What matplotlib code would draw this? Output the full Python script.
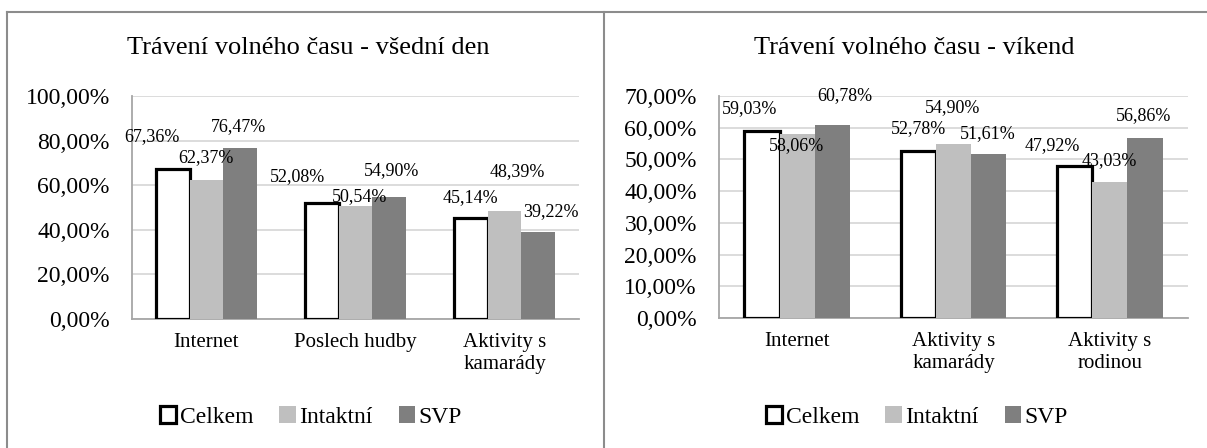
import matplotlib
matplotlib.use("Agg")
import matplotlib.pyplot as plt
from matplotlib.patches import Patch
from matplotlib.lines import Line2D
from matplotlib.ticker import FuncFormatter

plt.rcParams['font.family'] = ['Liberation Serif', 'DejaVu Serif']

series = ["Celkem", "Intaktní", "SVP"]

# vsedni den
weekday_title = "Trávení volného času - všední den"
weekday_cats = ["Internet", "Poslech hudby", "Aktivity s\nkamarády"]
weekday_celkem = [67.36, 52.08, 45.14]
weekday_intaktni = [62.37, 50.54, 48.39]
weekday_svp = [76.47, 54.90, 39.22]

# vikend
weekend_title = "Trávení volného času - víkend"
weekend_cats = ["Internet", "Aktivity s\nkamarády", "Aktivity s\nrodinou"]
weekend_celkem = [59.03, 52.78, 47.92]
weekend_intaktni = [58.06, 54.90, 43.03]
weekend_svp = [60.78, 51.61, 56.86]

# label nudges in pixels (dx, dy) from bar top, like excel put them
weekday_nudge = [
    [(-21, 32), (-24, 26), (-1, 21)],
    [(-1, 22), (4, 10), (13, 39)],
    [(-2, 22), (3, 26), (13, 20)],
]
weekend_nudge = [
    [(-12, 22), (0, 22), (-22, 20)],
    [(-1, -12), (-1, 36), (-1, 21)],
    [(12, 30), (-1, 21), (-1, 22)],
]

W, H = 1207, 448
fig = plt.figure(figsize=(W / 100, H / 100), dpi=100)

styles = [
    dict(facecolor="white", edgecolor="black", linewidth=2.3),
    dict(facecolor="#bfbfbf", edgecolor="none"),
    dict(facecolor="#7f7f7f", edgecolor="none"),
]


def pct(v, pos):
    return ("%.2f%%" % v).replace(".", ",")


def panel(rect, title, title_x, cats, data, ymax, step, nudges, legend_x):
    ax = fig.add_axes(rect)
    bw = 0.225
    xs = range(len(cats))
    for k, vals in enumerate(data):
        off = (k - 1) * bw
        bars = ax.bar([x + off for x in xs], vals, bw, zorder=3, **styles[k])
        for b, v, (dx, dy) in zip(bars, vals, nudges[k]):
            ax.annotate(pct(v, None), (b.get_x() + b.get_width() / 2, v),
                        xytext=(dx, dy), textcoords="offset pixels",
                        ha="center", va="center", fontsize=13, zorder=5)
    ax.set_xlim(-0.5, len(cats) - 0.5)
    ax.set_ylim(0, ymax)
    ax.set_yticks([i * step for i in range(int(round(ymax / step)) + 1)])
    ax.yaxis.set_major_formatter(FuncFormatter(pct))
    ax.set_xticks(list(xs))
    ax.set_xticklabels(cats)
    ax.tick_params(axis="x", length=0, pad=10, labelsize=15)
    ax.tick_params(axis="y", length=0, pad=16, labelsize=17)
    ax.grid(axis="y", color="#d9d9d9", linewidth=1.3, zorder=0)
    for s in ["top", "right"]:
        ax.spines[s].set_visible(False)
    for s in ["left", "bottom"]:
        ax.spines[s].set_color("#a6a6a6")
        ax.spines[s].set_linewidth(1.3)
    fig.text(title_x / W, 1 - 48 / H, title, ha="center", va="center",
             fontsize=19)
    handles = [Patch(**styles[0]), Patch(**styles[1]), Patch(**styles[2])]
    fig.legend(handles, series, loc="center", ncol=3,
               bbox_to_anchor=(legend_x / W, 1 - 417 / H), frameon=False,
               fontsize=17, handlelength=0.7, handleheight=0.7,
               handletextpad=0.15, columnspacing=1.1)
    return ax


panel([132 / W, 1 - 319 / H, 447 / W, 223 / H], weekday_title, 308,
      weekday_cats, [weekday_celkem, weekday_intaktni, weekday_svp],
      100, 20, weekday_nudge, 311)
panel([719 / W, 1 - 318 / H, 469 / W, 222 / H], weekend_title, 914,
      weekend_cats, [weekend_celkem, weekend_intaktni, weekend_svp],
      70, 10, weekend_nudge, 917)

# outer frame lines of the two chart boxes
frame = dict(color="#8c8c8c", linewidth=1.5, transform=fig.transFigure)
fig.add_artist(Line2D([7 / W, 1], [1 - 12 / H, 1 - 12 / H], **frame))
fig.add_artist(Line2D([7 / W, 7 / W], [0, 1 - 12 / H], **frame))
fig.add_artist(Line2D([604 / W, 604 / W], [0, 1 - 12 / H], **frame))

fig.savefig("out.png", dpi=100)
